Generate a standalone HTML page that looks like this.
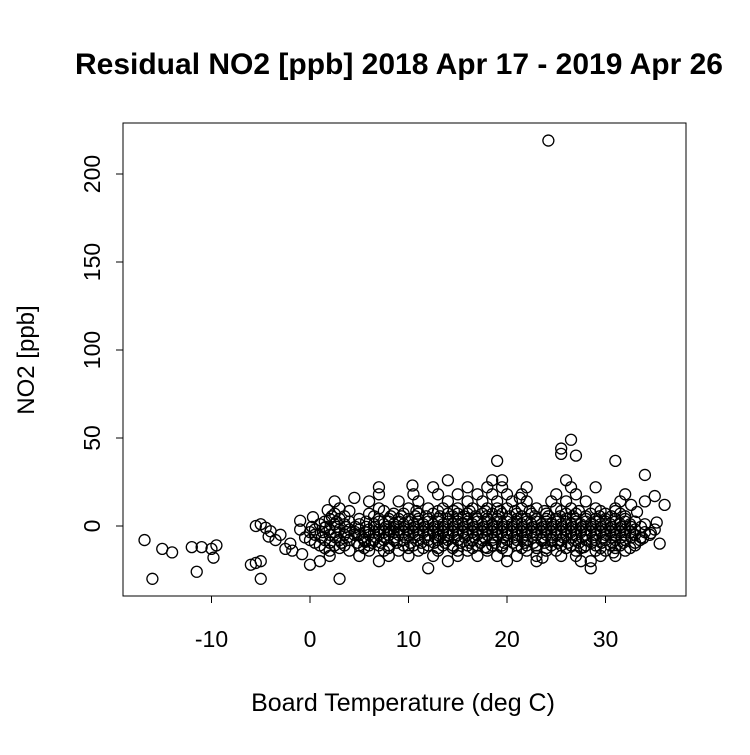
<!DOCTYPE html>
<html><head><meta charset="utf-8"><style>
body{margin:0;background:#fff}
svg text{font-family:"Liberation Sans",sans-serif;fill:#000}
</style></head><body>
<svg id="chart" width="750" height="750" xmlns="http://www.w3.org/2000/svg">
<rect width="750" height="750" fill="#fff"/>
<text x="399" y="74" font-size="30" font-weight="bold" text-anchor="middle">Residual NO2 [ppb] 2018 Apr 17 - 2019 Apr 26</text>
<rect x="123" y="123" width="563" height="473" fill="none" stroke="#000" stroke-width="1"/>
<text x="403" y="711" font-size="25" text-anchor="middle">Board Temperature (deg C)</text>
<text transform="translate(34,360) rotate(-90)" font-size="24" text-anchor="middle">NO2 [ppb]</text>
<g id="axes"></g>
<g id="points"></g>
</svg>
<script>
const xTicks=[-10,0,10,20,30];
const yTicks=[0,50,100,150,200];
const rowY=[-20,-17,-14,-11,-8,-5,-2,1,4,7,10,14,18,22,26,-12.5,-9.5,-6.5,-3.5,-0.5,2.5,5.5,8.5];
const rowX=[
[1,7,14,20,23,27.5,28.5],
[2,5,8,10,12.5,15,17,19,21,23,25.5,27,29.5,31],
[2,4,6,7.5,9,11,13,15,16,18,20,22,24,25,27,29,30,32],
[1,2.5,3.5,5,6,7,8,9.5,10.5,12,13.5,14.5,16,17,18.5,19.5,21,22,23,24.5,25.5,26.5,28,29,30.5,31.5,33],
[0,1.5,3,4,5.5,6.5,7.5,8.5,9.5,11,12,13,14,15,16.5,17.5,18.5,20,21,22,23.5,24.5,25.5,27,28,29,30,31,32,33.5],
[0.5,2,3.5,4.5,5,6,7,8,9,10,11,12,13,14,15,16,17,18,19,20,21,22,23,24,25,26,27,28,29,30,31,32,33,34.5],
[-1,0.5,2,3,4,5,6,7,8,9,10,11,12,13,14,15,16,17,18,19,20,21,22,23,24,25,26,27,28,29,30,31,32,33,35],
[1,2.5,3.5,5,6.5,7.5,8.5,9.5,10.5,11.5,12.5,13.5,14.5,15.5,16.5,17.5,18.5,19.5,20.5,21.5,22.5,23.5,24.5,25.5,26.5,27.5,28.5,29.5,30.5,31.5,32.5,34],
[2,3,5,7,8,9,10,11,12,13,14,15,16,17,18,19,20,21,22,23,24,25,26,27,28,29,30,31,32],
[2.5,6,8.5,9.5,11,12.5,14,15,16,17.5,18.5,19.5,21,22.5,24,26,27,28.5,30,31.5],
[3,7,10,12,13.5,15,16.5,18,19,20,21.5,23,25,26.5,29,31],
[2.5,6,9,11,14,16,17.5,19,20.5,22,24.5,26,28,31.5,34],
[7,10.5,13,15,17,18.5,20,21.5,25,27,32],
[7,12.5,16,18,19.5,22,26.5,29],
[14,18.5,19.5,26],
[1.5,3,5.5,8,10,11.5,13,14.5,16.5,18,19.5,21.5,23,24,26,27.5,29.5,31,32.5],
[0.5,2,3.2,4.8,6.3,7.2,8.8,10.2,11.3,12.6,13.7,15.3,16.2,17.3,18.8,19.7,20.6,21.8,22.7,23.8,25.2,26.2,27.3,28.6,29.6,30.7,31.8,33],
[-0.5,1.2,2.6,3.8,5.3,6.7,7.6,8.6,9.7,10.6,11.7,12.7,13.6,14.7,15.7,16.7,17.7,18.6,19.6,20.7,21.6,22.6,23.6,24.6,25.7,26.6,27.6,28.7,29.7,30.6,31.6,32.6,33.6],
[0,1.3,2.5,3.7,4.6,5.6,6.5,7.5,8.5,9.5,10.5,11.5,12.5,13.5,14.5,15.5,16.5,17.5,18.5,19.5,20.5,21.5,22.5,23.5,24.5,25.5,26.5,27.5,28.5,29.5,30.5,31.5,32.5,34],
[0.2,1.6,2.7,3.6,4.6,5.7,6.6,7.7,8.6,9.6,10.6,11.6,12.6,13.6,14.6,15.6,16.6,17.6,18.6,19.6,20.6,21.6,22.6,23.6,24.6,25.6,26.6,27.6,28.6,29.6,30.6,31.6,32.6,33.6],
[1.5,2.7,4,5.7,7,8,9,10,11,12,13,14,15,16,17,18,19,20,21,22,23,24,25,26,27,28,29,30,31,32,33],
[2.2,3.5,6.5,8.2,9.3,10.7,11.8,13.2,14.5,15.6,16.8,17.9,19.1,20.3,21.5,22.8,24.2,25.4,26.7,28,29.4,30.6,32],
[4,7.5,10.8,13,14.6,16.2,17.8,19.3,20.8,22.3,23.8,25.5,27.3,29.5,31]
];
const extraT=[24.2,-16.8,-16,-15,-14,-12,-11.5,-11,-10,-9.5,-9.8,-6,-5.5,-5,-5,-5.5,-5,-4.5,-4,-3,-2,-1,0,3,25.5,26.5,25.5,27,19,31,34,28.5,12,36,35,35.5,-3.5,-2.5,0.3,1.5,4.5,8.2,13.2,17.8,23.6,30.8,33.2,34.6,-0.8,1.8,5.6,10.4,21.3,27.8,32.6,33.8,35.2,-4.2,-1.8];
const extraV=[219,-8,-30,-13,-15,-12,-26,-12,-13,-11,-18,-22,-21,-30,-20,0,1,-1,-3,-5,-10,3,-22,-30,44,49,41,40,37,37,29,-24,-24,12,17,-10,-8,-13,5,-1,16,-3,-6,-12,-18,-15,8,-4,-16,9,-9,23,16,-12,12,-7,2,-6,-14];
const X=t=>310+9.85*t, Y=v=>526-1.76*v;
const ns="http://www.w3.org/2000/svg";
const ax=document.getElementById('axes'), pg=document.getElementById('points');
function mk(tag,at,parent){const e=document.createElementNS(ns,tag);for(const k in at)e.setAttribute(k,at[k]);parent.appendChild(e);return e;}
let xl=mk('line',{x1:X(xTicks[0]),x2:X(xTicks[xTicks.length-1]),y1:596,y2:596,stroke:'#000'},ax);


xTicks.forEach(t=>{
 const l=mk('line',{x1:X(t),x2:X(t),y1:596,y2:603,stroke:'#000'},ax);
 
 
 const tx=mk('text',{x:X(t),y:647,'font-size':23,'text-anchor':'middle'},ax);tx.textContent=t;
 
 
});
let yl=mk('line',{x1:123,x2:123,y1:Y(yTicks[0]),y2:Y(yTicks[yTicks.length-1]),stroke:'#000'},ax);


yTicks.forEach(v=>{
 const l=mk('line',{x1:116,x2:123,y1:Y(v),y2:Y(v),stroke:'#000'},ax);
 
 
 const tx=mk('text',{transform:`translate(100,${Y(v)}) rotate(-90)`,'font-size':23,'text-anchor':'middle'},ax);tx.textContent=v;
 
 
});
function pt(t,v){
 const c=mk('circle',{cx:X(t),cy:Y(v),r:5.5,fill:'none',stroke:'#000','stroke-width':1.3},pg);
 
 
}
rowY.forEach((v,i)=>rowX[i].forEach(t=>pt(t,v)));
extraT.forEach((t,i)=>pt(t,extraV[i]));
</script>
</body></html>
